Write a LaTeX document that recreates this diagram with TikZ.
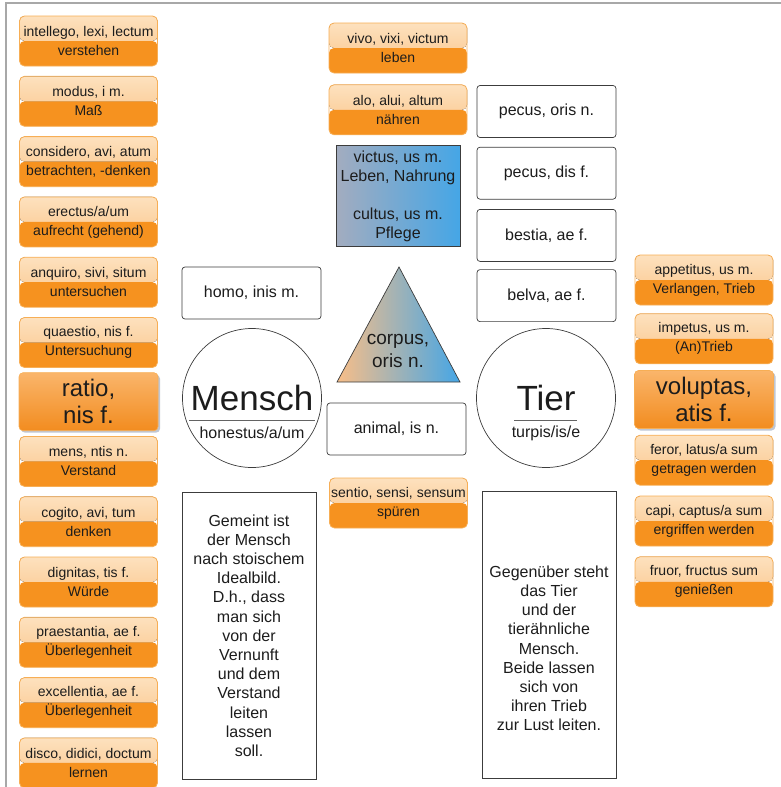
\documentclass[tikz,border=0pt]{standalone}
\usepackage{fontspec}
\setmainfont{Liberation Sans}
\usetikzlibrary{positioning, shadows}
\definecolor{cpeachtop}{HTML}{FDE1BE}
\definecolor{cpeachlow}{HTML}{FAC386}
\definecolor{corange}{HTML}{F6921F}
\definecolor{cedge}{HTML}{F7AE55}
\definecolor{cbigtop}{HTML}{FAB56B}
\definecolor{cbiglow}{HTML}{F28C1F}
\definecolor{cshadow}{HTML}{8A98B0}
\definecolor{cink}{HTML}{1C1C1C}
\definecolor{cbox}{HTML}{3C3C3C}
\definecolor{cframe}{HTML}{A8A8A8}
\definecolor{cgreyblue}{HTML}{A3ACBF}
\definecolor{cpeach}{HTML}{F8BE88}
\definecolor{cblue}{HTML}{45A6E6}
\definecolor{cmid}{HTML}{CDB3A0}

\begin{document}
\begin{tikzpicture}[
  x=1pt, y=1pt,
  every node/.append style={text=cink},
  vocabcard/.style={
    rectangle, rounded corners=5pt,
    draw=cedge, line width=0.8pt,
    minimum width=138pt, minimum height=50pt,
    inner xsep=0pt, inner ysep=2pt,
    align=center, font=\fontsize{14}{19}\selectfont,
    path picture={
      \fill[top color=cpeachtop, bottom color=cpeachlow]
        (path picture bounding box.north west) rectangle (path picture bounding box.east);
      \fill[corange]
        (path picture bounding box.west) rectangle (path picture bounding box.south east);
    }
  },
  bigcard/.style={
    rectangle, rounded corners=4pt,
    top color=cbigtop, bottom color=cbiglow,
    draw=cedge, line width=0.6pt,
    minimum width=139pt, minimum height=58pt,
    inner sep=0pt, align=center,
    font=\fontsize{24}{27}\selectfont,
    drop shadow={shadow xshift=2pt, shadow yshift=-2pt, fill=cshadow, opacity=0.55}
  },
  wordbox/.style={
    rectangle, rounded corners=3pt,
    draw=cbox, line width=0.7pt, fill=white,
    minimum width=139pt, minimum height=52pt,
    inner sep=0pt, font=\fontsize{16}{19}\selectfont
  },
  notebox/.style={
    rectangle, draw=cbox, line width=0.7pt,
    minimum width=134pt, minimum height=287pt,
    inner sep=0pt, align=center,
    font=\fontsize{16}{19.2}\selectfont
  },
  figcircle/.style={
    circle, draw=cbox, line width=0.7pt,
    minimum size=139pt, inner sep=0pt,
    font=\fontsize{35}{40}\selectfont
  },
  circlesub/.style={inner sep=0pt, font=\fontsize{16}{19}\selectfont},
  underline/.style={draw=cbox!80, line width=1pt}
]

\useasboundingbox (0,0) rectangle (781,-787);
\draw[cframe, line width=1.2pt] (6,-787) -- (6,-3) -- (781,-3);

% left column
\node[vocabcard] (intellego) at (88.5,-41) {intellego, lexi, lectum\\verstehen};
\node[vocabcard, below=9.5pt of intellego] (modus) {modus, i m.\\Maß};
\node[vocabcard, below=9.5pt of modus] (considero) {considero, avi, atum\\betrachten, -denken};
\node[vocabcard, below=9.5pt of considero] (erectus) {erectus/a/um\\aufrecht (gehend)};
\node[vocabcard, below=9.5pt of erectus] (anquiro) {anquiro, sivi, situm\\untersuchen};
\node[vocabcard, below=9.5pt of anquiro] (quaestio) {quaestio, nis f.\\Untersuchung};
\node[bigcard, below=4.5pt of quaestio] (ratio) {ratio,\\nis f.};
\node[vocabcard, below=5pt of ratio] (mens) {mens, ntis n.\\Verstand};
\node[vocabcard, below=9.5pt of mens] (cogito) {cogito, avi, tum\\denken};
\node[vocabcard, below=9.5pt of cogito] (dignitas) {dignitas, tis f.\\Würde};
\node[vocabcard, below=9.5pt of dignitas] (praestantia) {praestantia, ae f.\\Überlegenheit};
\node[vocabcard, below=9.5pt of praestantia] (excellentia) {excellentia, ae f.\\Überlegenheit};
\node[vocabcard, below=9.5pt of excellentia] (disco) {disco, didici, doctum\\lernen};

% centre column
\node[vocabcard] (vivo) at (398,-48) {vivo, vixi, victum\\leben};
\node[vocabcard, below=11pt of vivo] (alo) {alo, alui, altum\\nähren};
\node[rectangle, draw=cbox, line width=0.7pt,
  left color=cgreyblue, middle color=cpeach, right color=cblue,
  minimum width=124pt, minimum height=101pt, inner sep=0pt, align=center,
  font=\fontsize{16}{19}\selectfont,
  below=10pt of alo] (victus) {victus, us m.\\Leben, Nahrung\\[19pt]cultus, us m.\\Pflege};

\node[wordbox] (homo) at (251.5,-293) {homo, inis m.};
\node[wordbox] (animal) at (396.5,-429) {animal, is n.};
\node[vocabcard] (sentio) at (398.5,-503) {sentio, sensi, sensum\\spüren};

\coordinate (apex) at (399,-267);
\coordinate (baseL) at (337,-382);
\coordinate (baseR) at (460,-382);
\shadedraw[draw=cbox, line width=0.7pt,
  left color=cpeach, middle color=cmid, right color=cblue]
  (apex) -- (baseR) -- (baseL) -- cycle;
\node[align=center, inner sep=0pt, font=\fontsize{19}{23}\selectfont] (corpus) at (398,-351) {corpus,\\oris n.};

% Mensch and Tier
\node[figcircle] (menschc) at (252,-398) {Mensch};
\node[figcircle] (tierc) at (546,-398) {Tier};
\draw[underline] ([xshift=-63pt, yshift=-22pt]menschc.center) -- ([xshift=63pt, yshift=-22pt]menschc.center);
\draw[underline] ([xshift=-32pt, yshift=-22pt]tierc.center) -- ([xshift=31pt, yshift=-22pt]tierc.center);
\node[circlesub] (honestus) at ([yshift=-35pt]menschc.center) {honestus/a/um};
\node[circlesub] (turpis) at ([yshift=-35pt]tierc.center) {turpis/is/e};
\draw[cbox, line width=0.6pt, double, double distance=1.6pt] (menschc) -- (tierc);

% right white boxes
\node[wordbox] (pecusn) at (546.5,-111.5) {pecus, oris n.};
\node[wordbox, below=9pt of pecusn] (pecusf) {pecus, dis f.};
\node[wordbox, below=9.5pt of pecusf] (bestia) {bestia, ae f.};
\node[wordbox, below=7.5pt of bestia] (belva) {belva, ae f.};

% right column
\node[vocabcard] (appetitus) at (704,-280) {appetitus, us m.\\Verlangen, Trieb};
\node[vocabcard, below=8pt of appetitus] (impetus) {impetus, us m.\\(An)Trieb};
\node[bigcard, below=6pt of impetus] (voluptas) {voluptas,\\atis f.};
\node[vocabcard, below=6pt of voluptas] (feror) {feror, latus/a sum\\getragen werden};
\node[vocabcard, below=10pt of feror] (capi) {capi, captus/a sum\\ergriffen werden};
\node[vocabcard, below=10pt of capi] (fruor) {fruor, fructus sum\\genießen};

% notes
\node[notebox] (menschtxt) at (249,-635.5) {Gemeint ist\\der Mensch\\nach stoischem\\Idealbild.\\D.h., dass\\man sich\\von der\\Vernunft\\und dem\\Verstand\\leiten\\lassen\\soll.};
\node[notebox] (tiertxt) at (549,-635) {~\\~\\Gegenüber steht\\das Tier\\und der\\tierähnliche\\Mensch.\\Beide lassen\\sich von\\ihren Trieb\\zur Lust leiten.};

\end{tikzpicture}
\end{document}
